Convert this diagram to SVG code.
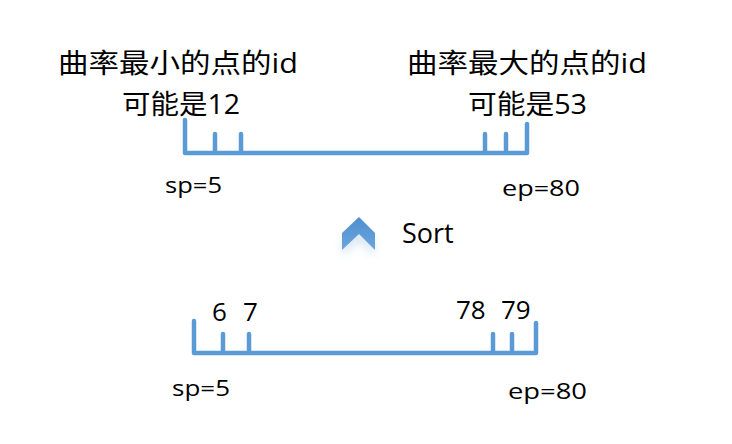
<svg xmlns="http://www.w3.org/2000/svg" width="732" height="444" viewBox="0 0 732 444">
<defs>
<style>
.bar{fill:none;stroke:#5B9BD5;stroke-width:4.5;stroke-linecap:round;stroke-linejoin:round}
.cn{font-family:"Open Sans","Noto Sans CJK SC",sans-serif;font-size:27px;fill:#000}
.lbl{font-family:"Open Sans","Liberation Sans",sans-serif;font-size:22px;fill:#000}
.num{font-family:"Open Sans","Liberation Sans",sans-serif;font-size:26px;fill:#000}
</style>
<linearGradient id="chev" x1="0" y1="0" x2="0" y2="1">
<stop offset="0" stop-color="#4F8FCF"/>
<stop offset="1" stop-color="#6CA6DC"/>
</linearGradient>
<filter id="sh" x="-50%" y="-50%" width="200%" height="200%">
<feGaussianBlur stdDeviation="4"/>
</filter>
</defs>
<rect width="732" height="444" fill="#fff"/>
<g id="top-labels">
<text class="cn" x="58" y="73" textLength="240" lengthAdjust="spacingAndGlyphs">曲率最小的点的id</text>
<text class="cn" x="122" y="114" textLength="118" lengthAdjust="spacingAndGlyphs">可能是12</text>
<text class="cn" x="407" y="73" textLength="240" lengthAdjust="spacingAndGlyphs">曲率最大的点的id</text>
<text class="cn" x="468" y="114" textLength="119" lengthAdjust="spacingAndGlyphs">可能是53</text>
</g>
<g id="top-bar">
<path class="bar" d="M185,120 V153 H527 V124 M215,134 V153 M241,134 V153 M485,134 V153 M506,134 V153"/>
<text class="lbl" x="165" y="193" textLength="57" lengthAdjust="spacingAndGlyphs">sp=5</text>
<text class="lbl" x="502" y="196" textLength="78" lengthAdjust="spacingAndGlyphs">ep=80</text>
</g>
<g id="sort">
<polygon points="342,241 359,225 375,241 375,256 359,242 342,256" fill="#9cc0e6" opacity="0.35" filter="url(#sh)"/>
<polygon points="342,233 359,217 375,233 375,250 359,234 342,250" fill="url(#chev)"/>
<text x="402" y="243" style="font-family:'Open Sans','Liberation Sans',sans-serif;font-size:27px;fill:#000">Sort</text>
</g>
<g id="bottom-bar">
<path class="bar" d="M194,321 V353 H536 V323 M223,334 V353 M249,334 V353 M493,334 V353 M512,334 V353"/>
<text class="num" x="212" y="321">6</text>
<text class="num" x="243" y="321">7</text>
<text class="num" x="456" y="319">78</text>
<text class="num" x="501" y="319">79</text>
<text class="lbl" x="172" y="396" textLength="58" lengthAdjust="spacingAndGlyphs">sp=5</text>
<text class="lbl" x="508" y="399" textLength="79" lengthAdjust="spacingAndGlyphs">ep=80</text>
</g>
</svg>
